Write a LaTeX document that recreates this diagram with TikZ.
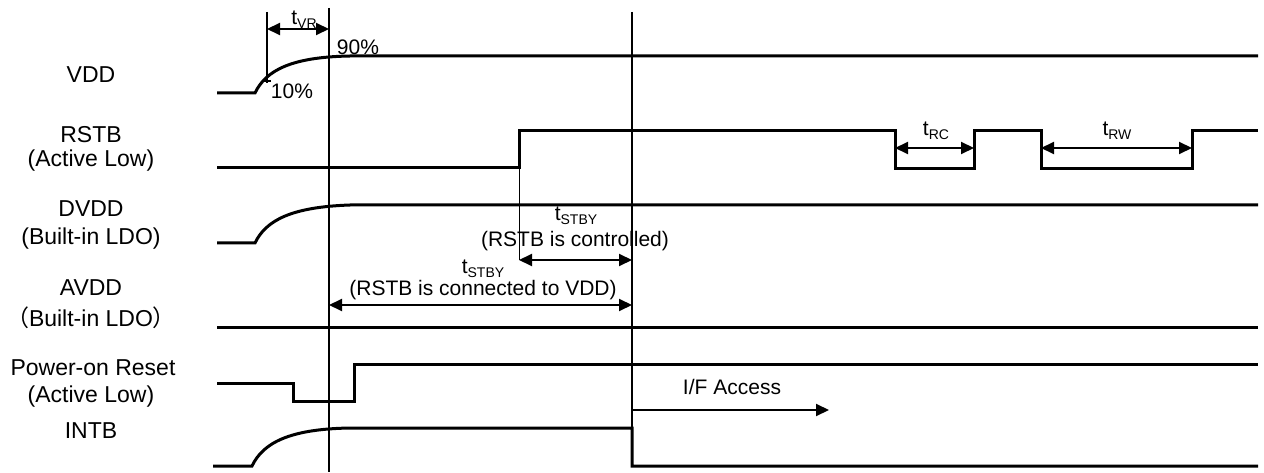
\documentclass[tikz,border=0pt]{standalone}
\usepackage{fontspec}
\setmainfont{Liberation Sans}
\newfontfamily\cjkfont{Noto Sans CJK SC}
\usetikzlibrary{arrows.meta}
\newcommand\lowidx[1]{\raisebox{-0.35ex}{\fontsize{14}{14}\selectfont #1}}
\begin{document}
\begin{tikzpicture}[x=1pt,y=-1pt,
  sig/.style={line width=3pt, line join=miter},
  gridline/.style={line width=1.5pt},
  thinline/.style={line width=0.9pt},
  dimarrow/.style={line width=2pt, {Triangle[length=13pt,width=12pt]}-{Triangle[length=13pt,width=12pt]}},
  onearrow/.style={line width=2pt, -{Triangle[length=13pt,width=12pt]}},
  lbl/.style={font=\fontsize{21}{25}\selectfont, inner sep=0pt},
  side/.style={font=\fontsize{23}{27}\selectfont, inner sep=0pt}]
\path[use as bounding box] (0,0) rectangle (1264,473);

% left labels
\node[side] (lvdd) at (91,75) {VDD};
\node[side] (lrstb) at (91,135) {RSTB};
\node[side] (lrstba) at (91,161) {(Active Low)};
\node[side] (ldvdd) at (91,209) {DVDD};
\node[side] (ldvdda) at (91,239) {(Built-in LDO)};
\node[side] (lavdd) at (91,288) {AVDD};
\node[side] (lavdda) at (91,318) {{\cjkfont （}Built-in LDO{\cjkfont ）}};
\node[side] (lpor) at (93,368) {Power-on Reset};
\node[side] (lpora) at (91,397) {(Active Low)};
\node[side] (lintb) at (91,431) {INTB};

% coordinates
\coordinate (v1top) at (329,8);
\coordinate (v1bot) at (329,472);
\coordinate (v2top) at (632,12);
\coordinate (v2bot) at (632,466);
\coordinate (v0top) at (267,12);
\coordinate (v0bot) at (267,83);
\coordinate (tickl) at (262,81);
\coordinate (tickr) at (271,81);

% grid lines
\draw[gridline] (v1top) -- (v1bot);
\draw[gridline] (v2top) -- (v2bot);
\draw[gridline] (v0top) -- (v0bot);
\draw[gridline] (tickl) -- (tickr);

% signals
\draw[sig] (217,93) -- (255,93) .. controls (266,70) and (292,57) .. (350,56) -- (1258,56);
\draw[sig] (217,168) -- (519,168) -- (519,131) -- (895,131) -- (895,169) -- (974,169) -- (974,131) -- (1041,131) -- (1041,169) -- (1192,169) -- (1192,131) -- (1258,131);
\draw[sig] (217,243) -- (255,243) .. controls (266,220) and (292,207) .. (350,205) -- (1258,205);
\draw[sig] (217,327) -- (1258,327);
\draw[sig] (217,383) -- (293,383) -- (293,401) -- (354,401) -- (354,364) -- (1258,364);
\draw[sig] (213,466) -- (252,466) .. controls (263,443) and (289,429) .. (350,428) -- (632,428) -- (632,466) -- (1258,466);

% dimension lines
\coordinate (rstbrise) at (519,168);
\coordinate (stbyA) at (519,260);
\coordinate (stbyB) at (632,260);
\coordinate (stbyC) at (329,305);
\coordinate (stbyD) at (632,305);
\coordinate (vrA) at (267,29);
\coordinate (vrB) at (329,29);
\coordinate (rcA) at (895,148);
\coordinate (rcB) at (974,148);
\coordinate (rwA) at (1041,148);
\coordinate (rwB) at (1192,148);
\coordinate (ifA) at (632,410);
\coordinate (ifB) at (829,410);

\draw[thinline] (rstbrise) -- (stbyA);
\draw[dimarrow] (vrA) -- (vrB);
\draw[dimarrow] (stbyA) -- (stbyB);
\draw[dimarrow] (stbyC) -- (stbyD);
\draw[dimarrow] (rcA) -- (rcB);
\draw[dimarrow] (rwA) -- (rwB);
\draw[onearrow] (ifA) -- (ifB);

% annotations
\node[lbl] (tvr) at (304,20) {t\lowidx{VR}};
\node[lbl] (p90) at (358,47) {90\%};
\node[lbl] (p10) at (292,91) {10\%};
\node[lbl] (trc) at (936,131) {t\lowidx{RC}};
\node[lbl] (trw) at (1117,131) {t\lowidx{RW}};
\node[lbl] (tstby1) at (576,216) {t\lowidx{STBY}};
\node[lbl] (tstby1b) at (575,241) {(RSTB is controlled)};
\node[lbl] (tstby2) at (483,269) {t\lowidx{STBY}};
\node[lbl] (tstby2b) at (483,290) {(RSTB is connected to VDD)};
\node[lbl] (ifacc) at (732,387) {I/F Access};
\end{tikzpicture}
\end{document}
